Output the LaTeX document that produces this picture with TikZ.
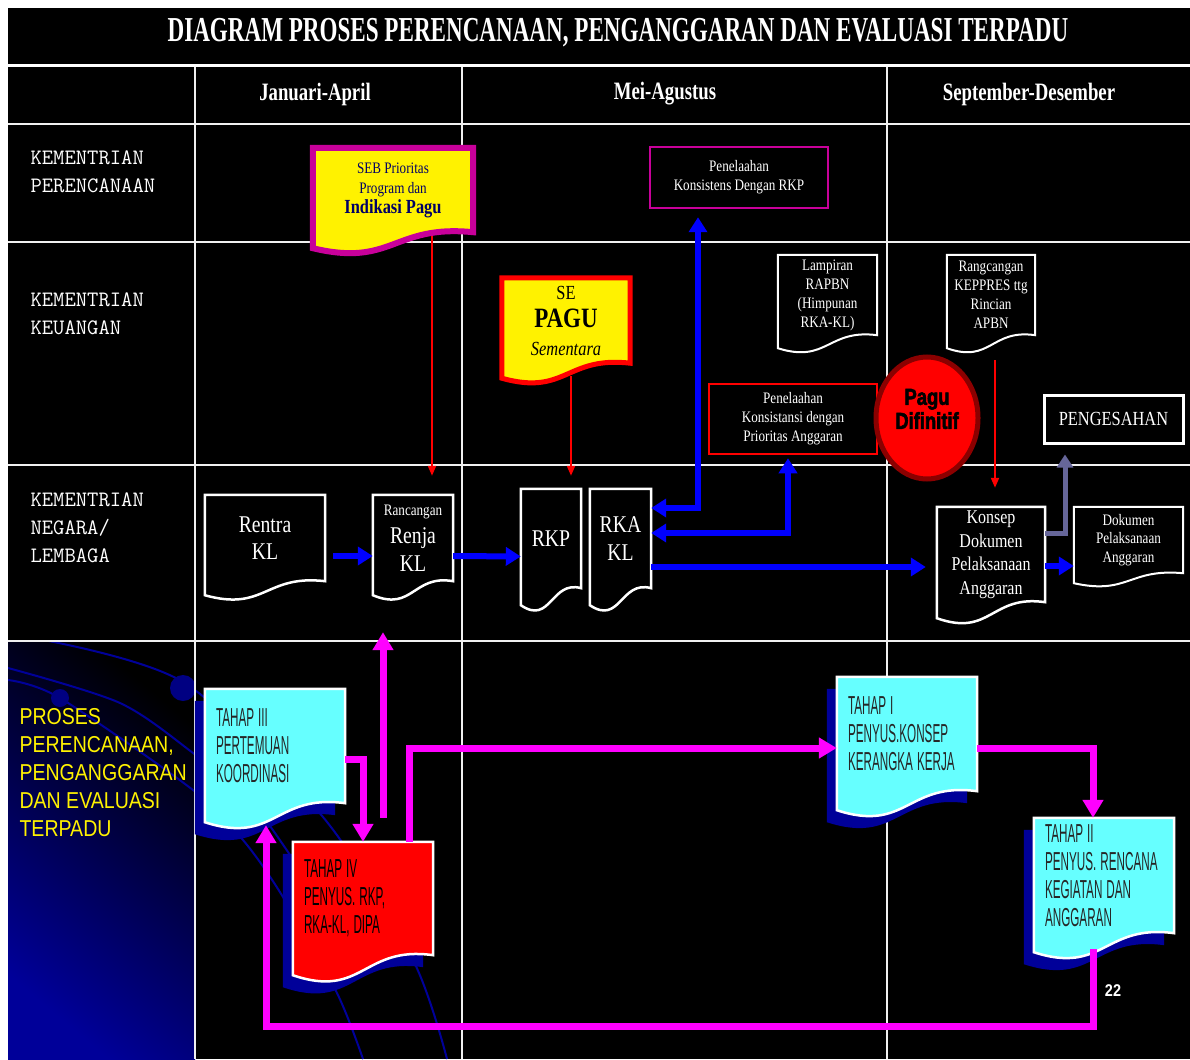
\documentclass[tikz,border=0pt]{standalone}
\usepackage{fontspec}
\setmainfont{Liberation Serif}[FakeStretch=0.82]
\newfontfamily\ttlfont{Liberation Serif}[FakeStretch=0.66]
\newfontfamily\hdrfont{Liberation Serif}[FakeStretch=0.75]
\newfontfamily\tahapfont{Liberation Sans}[FakeStretch=0.45]
\newfontfamily\prosesfont{Liberation Sans}[FakeStretch=0.85]
\newfontfamily\pagufont{Liberation Sans}[FakeStretch=0.8, FakeBold=2.5]
\usetikzlibrary{arrows.meta,calc,shapes.geometric}

\definecolor{tahapcyan}{HTML}{66FFFF}
\definecolor{shadenavy}{HTML}{000099}
\definecolor{arrmagenta}{HTML}{FF00FF}
\definecolor{sebpurple}{HTML}{C8009A}
\definecolor{pagudark}{HTML}{8B0000}
\definecolor{pengarrow}{HTML}{666699}
\definecolor{sebtext}{HTML}{000066}

\pgfdeclarelayer{deco}
\pgfdeclarelayer{docs}
\pgfsetlayers{deco,docs,main}

\newcommand\tahapspacing{\spaceskip=4pt plus 1pt\relax\hyphenpenalty=10000\relax}

% document outline under a named node: style, node, wave depth
\newcommand\docoutline[3]{%
  \begin{pgfonlayer}{docs}
  \path[#1] (#2.north west) -- (#2.north east) -- (#2.south east)
    .. controls ($(#2.south)+(0,-0.5*#3)$) and ($(#2.south)+(0,2.2*#3)$)
    .. ($(#2.south west)+(0,#3)$) -- cycle;
  \end{pgfonlayer}}

\begin{document}
\begin{tikzpicture}[x=1pt,y=-1pt,
  docnode/.style={rectangle, inner sep=0pt, align=center, text=white},
  tahapnode/.style={rectangle, inner sep=0pt, minimum width=140pt, text width=118pt,
    align=left, text=black!85, font=\tahapfont\fontsize{26}{28}\selectfont,
    execute at begin node=\tahapspacing},
  framebox/.style={rectangle, inner sep=0pt, fill=black, line width=2.5pt, align=center,
    text=white, font=\fontsize{16}{19}\selectfont},
  lanetext/.style={anchor=west, align=left, text=white, font=\ttfamily\fontsize{22}{28}\selectfont},
  headtext/.style={text=white, font=\hdrfont\bfseries\fontsize{25}{28}\selectfont},
  gridline/.style={white!88!gray, line width=2pt},
  docwhite/.style={fill=black, draw=white, line width=2.5pt},
  docshadow/.style={fill=shadenavy, transform canvas={shift={(-10,12)}}},
  doccyan/.style={fill=tahapcyan, draw=white, line width=2.5pt},
  bluearr/.style={blue, line width=6pt, -{Triangle[length=15pt, width=18pt]}},
  bluetwin/.style={blue, line width=6pt, {Triangle[length=15pt, width=18pt]}-{Triangle[length=15pt, width=18pt]}},
  redarr/.style={red, line width=2pt, -{Triangle[length=10pt, width=8pt]}},
  grayarr/.style={pengarrow, line width=5pt, -{Triangle[length=13pt, width=16pt]}},
  magarr/.style={arrmagenta, line width=7pt, -{Triangle[length=18pt, width=20pt]}}]
\useasboundingbox (0,0) rectangle (1190,1059);

% background and grid
\begin{pgfonlayer}{deco}
\fill[white] (0,0) rectangle (1190,1059);
\fill[black] (8,8) rectangle (1190,1059);
\shade[top color=black, bottom color=shadenavy, shading angle=-40] (8,642) rectangle (195,1059);
\begin{scope}
\clip (8,642) rectangle (470,1059);
\draw[shadenavy, line width=2pt] plot[smooth] coordinates {(33,638) (183,682) (323,817) (413,960) (447,1059)};
\draw[shadenavy, line width=2pt] plot[smooth] coordinates {(8,668) (120,703) (193,753) (250,800) (300,870)};
\draw[shadenavy, line width=2pt] plot[smooth] coordinates {(8,680) (60,698) (193,790) (243,840) (283,897) (337,993) (363,1059)};
\fill[shadenavy!85!black] (183,688) circle (13);
\fill[shadenavy!85!black] (60,698) circle (9);
\end{scope}
\draw[white, line width=3pt] (8,65.5) -- (1190,65.5);
\foreach \yy in {124,242,465,641}
  \draw[gridline] (8,\yy) -- (1190,\yy);
\foreach \xx in {195,462,887}
  \draw[gridline] (\xx,67) -- (\xx,1059);
\end{pgfonlayer}

% headings
\node[text=white, font=\ttlfont\bfseries\fontsize{35}{40}\selectfont] (title) at (618,33)
  {DIAGRAM PROSES PERENCANAAN, PENGANGGARAN DAN EVALUASI TERPADU};
\node[headtext] (hjan) at (315,94) {Januari-April};
\node[headtext] (hmei) at (665,94) {Mei-Agustus};
\node[headtext] (hsep) at (1029,94) {September-Desember};

\node[lanetext] (laneren) at (27,172) {KEMENTRIAN\\PERENCANAAN};
\node[lanetext] (lanekeu) at (27,314) {KEMENTRIAN\\KEUANGAN};
\node[lanetext] (lanekl) at (27,528) {KEMENTRIAN\\NEGARA/\\LEMBAGA};
\node[anchor=west, align=left, text=yellow, font=\prosesfont\fontsize{23}{28}\selectfont] (proses) at (16,773)
  {PROSES\\PERENCANAAN,\\PENGANGGARAN\\DAN EVALUASI\\TERPADU};

% kementrian perencanaan / keuangan
\node[docnode, minimum width=160pt, minimum height=84pt, text=sebtext, font=\fontsize{16}{20}\selectfont] (seb) at (393,190)
  {SEB Prioritas\\Program dan\\{\fontsize{20}{21}\selectfont\bfseries Indikasi Pagu}};
\docoutline{fill=yellow, draw=sebpurple, line width=6pt}{seb}{16}
\node[framebox, draw=sebpurple, minimum width=178pt, minimum height=61pt] (pkrkp) at (739,177.5)
  {Penelaahan\\Konsistens Dengan RKP};
\node[docnode, minimum width=128pt, minimum height=85pt, text=black, font=\fontsize{20}{28}\selectfont] (sepagu) at (566,320.5)
  {SE\\{\fontsize{28}{29}\selectfont\bfseries PAGU}\\{\itshape Sementara}};
\docoutline{fill=yellow, draw=red, line width=5pt}{sepagu}{15}
\node[docnode, minimum width=99pt, minimum height=80pt, font=\fontsize{16}{19}\selectfont] (lamp) at (827.5,295)
  {Lampiran\\RAPBN\\(Himpunan\\RKA-KL)};
\docoutline{docwhite, line width=2pt}{lamp}{13}
\node[docnode, minimum width=88pt, minimum height=80pt, font=\fontsize{16}{19}\selectfont] (rang) at (991,295)
  {Rangcangan\\KEPPRES ttg\\Rincian\\APBN};
\docoutline{docwhite, line width=2pt}{rang}{13}
\node[framebox, draw=red, minimum width=168pt, minimum height=70pt] (pkprior) at (793,419)
  {Penelaahan\\Konsistansi dengan\\Prioritas Anggaran};
\node[ellipse, minimum width=102pt, minimum height=122pt, fill=red, draw=pagudark, line width=5pt] (pagu) at (927,418) {};
\node[align=center, text=black, font=\pagufont\bfseries\fontsize{23}{24}\selectfont] (pagutxt) at ($(pagu)+(0,-9)$) {Pagu\\Difinitif};
\node[framebox, draw=white, line width=3pt, minimum width=139pt, minimum height=48pt, font=\fontsize{20}{22}\selectfont] (pengesahan) at (1113.5,419) {PENGESAHAN};

% kementrian negara / lembaga
\node[docnode, minimum width=120pt, minimum height=86pt, font=\fontsize{24}{27}\selectfont] (rentra) at (265,538) {Rentra\\KL};
\docoutline{docwhite}{rentra}{14}
\node[docnode, minimum width=80pt, minimum height=86pt, font=\fontsize{24}{28}\selectfont] (renja) at (413,538)
  {{\fontsize{16}{18}\selectfont Rancangan}\\Renja\\KL};
\docoutline{docwhite}{renja}{14}
\node[docnode, minimum width=60pt, minimum height=99pt, font=\fontsize{24}{28}\selectfont] (rkp) at (551,538.5) {RKP};
\docoutline{docwhite}{rkp}{17}
\node[docnode, minimum width=61pt, minimum height=99pt, font=\fontsize{24}{28}\selectfont] (rka) at (620.5,538.5) {RKA\\KL};
\docoutline{docwhite}{rka}{17}
\node[docnode, minimum width=108pt, minimum height=95pt, font=\fontsize{19.5}{23.5}\selectfont] (konsep) at (991,554.5)
  {Konsep\\Dokumen\\Pelaksanaan\\Anggaran};
\docoutline{docwhite}{konsep}{16}
\node[docnode, minimum width=109pt, minimum height=66pt, font=\fontsize{16}{18.5}\selectfont] (dok) at (1128.5,540)
  {Dokumen\\Pelaksanaan\\Anggaran};
\docoutline{docwhite, line width=2pt}{dok}{10}

% tahap
\node[tahapnode, minimum height=114pt] (t3) at (275,746) {TAHAP III\\PERTEMUAN\\KOORDINASI};
\docoutline{docshadow}{t3}{19}
\docoutline{doccyan}{t3}{19}
\node[tahapnode, minimum height=113pt, text=black] (t4) at (363,898.5) {TAHAP IV\\PENYUS. RKP,\\RKA-KL, DIPA};
\docoutline{docshadow}{t4}{20}
\docoutline{doccyan, fill=red}{t4}{20}
\node[tahapnode, minimum height=114pt] (t1) at (907,734) {TAHAP I\\PENYUS.KONSEP\\KERANGKA KERJA};
\docoutline{docshadow}{t1}{19}
\docoutline{doccyan}{t1}{19}
\node[tahapnode, minimum height=115pt] (t2) at (1104,875.5) {TAHAP II\\PENYUS. RENCANA\\KEGIATAN DAN\\ANGGARAN};
\docoutline{docshadow}{t2}{19}
\docoutline{doccyan}{t2}{19}
\node[text=white, font=\prosesfont\bfseries\fontsize{17}{18}\selectfont] (pagenum) at (1113,991) {22};

% connectors
\draw[redarr] ($(seb.south)+(39,4)$) -- ($(renja.north)+(19,-19)$);
\draw[redarr] ($(sepagu.south)+(5,13)$) -- ($(rkp.north)+(20,-13)$);
\draw[redarr] ($(rang.south)+(4,25)$) -- ($(konsep.north)+(4,-19)$);
\draw[bluearr] ($(rentra.east)+(8,18)$) -- ($(renja.west)+(0,18)$);
\draw[bluearr] ($(renja.east)+(0,18)$) -- ($(rkp.west)+(0,18)$);
\draw[bluetwin] ($(rka.east)+(0,-30.5)$) -| ($(pkrkp.south)+(-41,8)$);
\draw[bluetwin] ($(rka.east)+(0,-5.5)$) -| ($(pkprior.south)+(-5,3)$);
\draw[bluearr] ($(rka.east)+(0,28.5)$) -- ($(konsep.west)+(-11,12.5)$);
\draw[bluearr] ($(konsep.east)+(0,11.5)$) -- ($(dok.west)+(0,26)$);
\draw[grayarr] ($(konsep.east)+(0,-21.5)$) -| ($(pengesahan.south)+(-48.5,10)$);
\draw[magarr] ($(t3.east)+(0,13)$) -| (t4.north);
\draw[magarr] ($(t4.north)+(20,-24)$) -- ($(renja.south)+(-30,51)$);
\draw[magarr] ($(t4.north)+(46,0)$) |- ($(t1.west)+(0,14)$);
\draw[magarr] ($(t1.east)+(0,14)$) -| ($(t2.north)+(-11,0)$);
\draw[magarr] ($(t2.south)+(-11,16)$) -- ++(0,77) -| ($(t3.south)+(-9,22)$);
\end{tikzpicture}
\end{document}
